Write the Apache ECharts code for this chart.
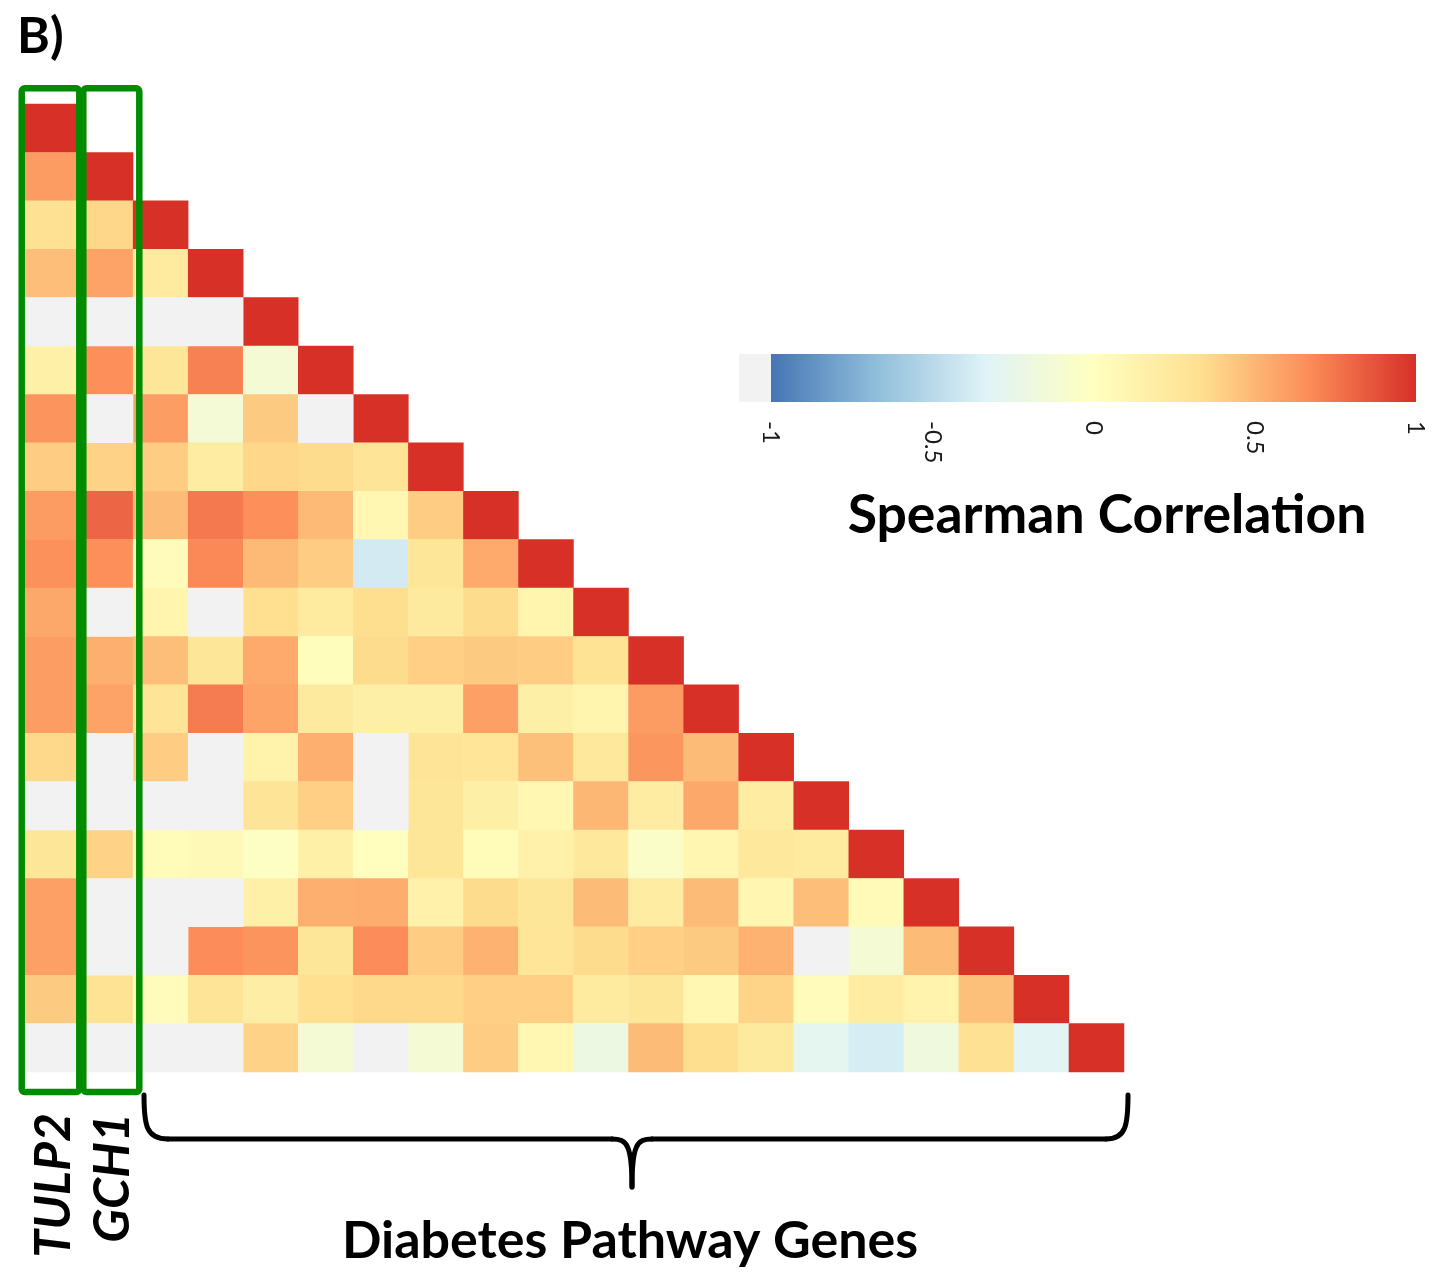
<!DOCTYPE html>
<html>
<head>
<meta charset="utf-8">
<script src="https://cdn.jsdelivr.net/npm/echarts@6/dist/echarts.min.js"></script>
<style>
html,body{margin:0;padding:0;background:#fff;}
#chart{width:1441px;height:1274px;}
</style>
</head>
<body>
<div id="chart"></div>
<script>
// Genes (columns/rows of the lower-triangular matrix)
const genes = ['TULP2','GCH1','DPG03','DPG04','DPG05','DPG06','DPG07','DPG08','DPG09','DPG10',
               'DPG11','DPG12','DPG13','DPG14','DPG15','DPG16','DPG17','DPG18','DPG19','DPG20'];

// Spearman correlations, one array per row (null = not significant, drawn grey)
const row01 = [1];
const row02 = [0.61, 1];
const row03 = [0.32, 0.37, 1];
const row04 = [0.47, 0.58, 0.22, 1];
const row05 = [null, null, null, null, 1];
const row06 = [0.16, 0.66, 0.27, 0.71, -0.12, 1];
const row07 = [0.64, null, 0.60, -0.13, 0.42, null, 1];
const row08 = [0.41, 0.39, 0.41, 0.20, 0.37, 0.35, 0.29, 1];
const row09 = [0.61, 0.81, 0.48, 0.74, 0.66, 0.49, 0.09, 0.41, 1];
const row10 = [0.65, 0.66, 0.03, 0.68, 0.49, 0.41, -0.39, 0.27, 0.55, 1];
const row11 = [0.56, null, 0.11, null, 0.33, 0.22, 0.34, 0.23, 0.35, 0.11, 1];
const row12 = [0.60, 0.53, 0.47, 0.27, 0.55, 0.02, 0.35, 0.40, 0.42, 0.41, 0.30, 1];
const row13 = [0.60, 0.58, 0.29, 0.73, 0.57, 0.23, 0.17, 0.17, 0.59, 0.17, 0.11, 0.61, 1];
const row14 = [0.36, null, 0.41, null, 0.14, 0.53, null, 0.29, 0.28, 0.46, 0.25, 0.63, 0.48, 1];
const row15 = [null, null, null, null, 0.29, 0.40, null, 0.27, 0.17, 0.09, 0.50, 0.20, 0.56, 0.20, 1];
const row16 = [0.27, 0.39, 0.04, 0.06, -0.03, 0.16, 0.01, 0.27, 0.04, 0.15, 0.25, -0.05, 0.10, 0.25, 0.22, 1];
const row17 = [0.59, null, null, null, 0.16, 0.53, 0.54, 0.15, 0.35, 0.27, 0.48, 0.20, 0.48, 0.10, 0.47, 0.05, 1];
const row18 = [0.59, null, null, 0.67, 0.64, 0.27, 0.67, 0.41, 0.52, 0.28, 0.35, 0.40, 0.42, 0.52, null, -0.12, 0.48, 1];
const row19 = [0.42, 0.30, 0.03, 0.29, 0.19, 0.33, 0.36, 0.36, 0.40, 0.40, 0.22, 0.27, 0.09, 0.38, 0.03, 0.20, 0.13, 0.46, 1];
const row20 = [null, null, null, null, 0.39, -0.12, null, -0.12, 0.41, 0.09, -0.20, 0.48, 0.34, 0.23, -0.28, -0.375, -0.18, 0.32, -0.31, 1];

const rows = [row01,row02,row03,row04,row05,row06,row07,row08,row09,row10,
              row11,row12,row13,row14,row15,row16,row17,row18,row19,row20];

// Colour scale (RdYlBu, 7 classes) and legend ticks
const scaleColors = ['#4575b4','#91bfdb','#e0f3f8','#ffffbf','#fee090','#fc8d59','#d73027'];
const legendMin = -1, legendMax = 1, legendStep = 0.5;
const naColor = '#f2f2f2';

const sigData = [];
const naData = [];
rows.forEach((r, i) => {
  r.forEach((v, j) => {
    if (v === null) naData.push([j, i, 0]);
    else sigData.push([j, i, v]);
  });
});

const chart = echarts.init(document.getElementById('chart'), null, {renderer: 'canvas'});
const FONT = 'Lato, "Noto Sans", sans-serif';
const HEAVY = 'bold';

const gradStops = scaleColors.map((c, k) => ({offset: k / (scaleColors.length - 1), color: c}));

chart.setOption({
  animation: false,
  backgroundColor: '#ffffff',
  grid: [
    {left: 23, top: 104, width: 1101, height: 968, show: false},
    {left: 771, top: 354, width: 645, height: 48, show: true, borderWidth: 0,
     backgroundColor: {type: 'linear', x: 0, y: 0, x2: 1, y2: 0, colorStops: gradStops}}
  ],
  xAxis: [
    {type: 'category', gridIndex: 0, data: genes, show: false},
    {type: 'value', gridIndex: 1, min: legendMin, max: legendMax, interval: legendStep,
     axisLine: {show: false}, axisTick: {show: false}, splitLine: {show: false},
     axisLabel: {rotate: -90, margin: 19, fontSize: 24, color: '#1a1a1a', fontFamily: FONT}}
  ],
  yAxis: [
    {type: 'category', gridIndex: 0, data: genes, inverse: true, show: false},
    {type: 'value', gridIndex: 1, min: 0, max: 1, show: false}
  ],
  visualMap: [
    {type: 'continuous', show: false, min: legendMin, max: legendMax, seriesIndex: 0, dimension: 2,
     inRange: {color: scaleColors}},
    {type: 'continuous', show: false, min: 0, max: 1, seriesIndex: 1, dimension: 2,
     inRange: {color: [naColor, naColor]}}
  ],
  series: [
    {type: 'heatmap', xAxisIndex: 0, yAxisIndex: 0, data: sigData, emphasis: {disabled: true}},
    {type: 'heatmap', xAxisIndex: 0, yAxisIndex: 0, data: naData, emphasis: {disabled: true}}
  ]
});

const green = '#008c00';
const braceStyle = {fill: null, stroke: '#000', lineWidth: 5, lineCap: 'round', lineJoin: 'round'};
chart.setOption({
  graphic: [
    {type: 'text', x: 17, y: 37, z: 100,
     style: {text: 'B)', fontSize: 50, fontWeight: HEAVY, fontFamily: FONT, fill: '#000',
             align: 'left', verticalAlign: 'middle'}},
    {type: 'rect', z: 100, shape: {x: 739, y: 354, width: 32, height: 48}, style: {fill: naColor}},
    {type: 'text', x: 1107, y: 516, z: 100,
     style: {text: 'Spearman Correlation', fontSize: 53.5, fontWeight: HEAVY, fontFamily: FONT, fill: '#000',
             align: 'center', verticalAlign: 'middle'}},
    {type: 'rect', z: 100, shape: {x: 21.7, y: 88.3, width: 57.6, height: 1003.7, r: 3},
     style: {fill: null, stroke: green, lineWidth: 6.5}},
    {type: 'rect', z: 100, shape: {x: 83.3, y: 88.3, width: 56, height: 1003.7, r: 3},
     style: {fill: null, stroke: green, lineWidth: 6.5}},
    {type: 'text', x: 54, y: 1113, rotation: Math.PI / 2, z: 100,
     style: {text: 'TULP2', fontSize: 50, fontWeight: HEAVY, fontStyle: 'italic', fontFamily: FONT, fill: '#000',
             align: 'right', verticalAlign: 'middle'}},
    {type: 'text', x: 113, y: 1113, rotation: Math.PI / 2, z: 100,
     style: {text: 'GCH1', fontSize: 50, fontWeight: HEAVY, fontStyle: 'italic', fontFamily: FONT, fill: '#000',
             align: 'right', verticalAlign: 'middle'}},
    // curly brace under the diabetes pathway genes
    {type: 'bezierCurve', z: 100, shape: {x1: 144, y1: 1095, cpx1: 144, cpy1: 1125, cpx2: 146, cpy2: 1139, x2: 168, y2: 1139}, style: braceStyle},
    {type: 'line', z: 100, shape: {x1: 168, y1: 1139, x2: 612, y2: 1139}, style: braceStyle},
    {type: 'bezierCurve', z: 100, shape: {x1: 612, y1: 1139, cpx1: 627, cpy1: 1139, cpx2: 632, cpy2: 1145, x2: 632, y2: 1187}, style: braceStyle},
    {type: 'bezierCurve', z: 100, shape: {x1: 632, y1: 1187, cpx1: 632, cpy1: 1145, cpx2: 637, cpy2: 1139, x2: 652, y2: 1139}, style: braceStyle},
    {type: 'line', z: 100, shape: {x1: 652, y1: 1139, x2: 1106, y2: 1139}, style: braceStyle},
    {type: 'bezierCurve', z: 100, shape: {x1: 1106, y1: 1139, cpx1: 1126, cpy1: 1139, cpx2: 1128, cpy2: 1125, x2: 1128, y2: 1095}, style: braceStyle},
    {type: 'text', x: 630, y: 1241, z: 100,
     style: {text: 'Diabetes Pathway Genes', fontSize: 52, fontWeight: HEAVY, fontFamily: FONT, fill: '#000',
             align: 'center', verticalAlign: 'middle'}}
  ]
});
</script>
</body>
</html>
